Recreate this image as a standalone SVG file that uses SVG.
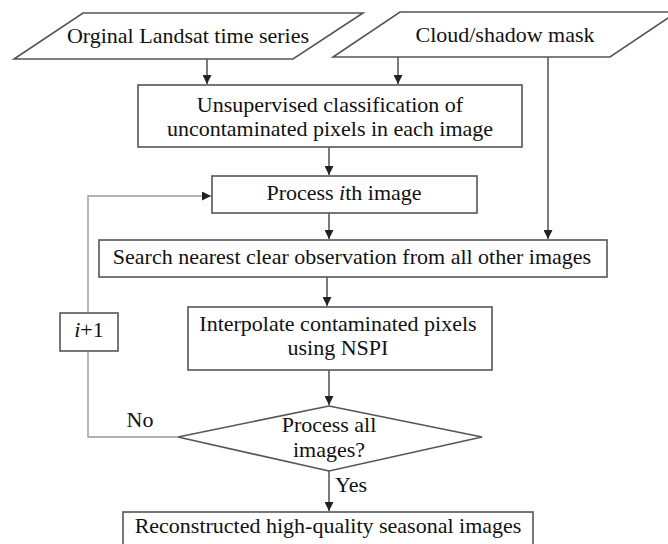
<svg xmlns="http://www.w3.org/2000/svg" width="668" height="544" viewBox="0 0 668 544">
<style>
.s{fill:#fff;stroke:#555;stroke-width:1.6}
.t{font-family:"Liberation Serif",serif;font-size:22px;fill:#111;text-anchor:middle}
.c{fill:none;stroke:#444;stroke-width:1.4}
.f{fill:none;stroke:#999;stroke-width:1.4}
</style>
<defs>
<marker id="a" viewBox="0 0 10 10" refX="10" refY="5" markerWidth="9" markerHeight="9" markerUnits="userSpaceOnUse" orient="auto">
<path d="M0,0 L10,5 L0,10 z" fill="#222"/>
</marker>
</defs>
<rect width="668" height="544" fill="#fff"/>
<g id="connectors">
<path class="c" d="M207,59 V84" marker-end="url(#a)"/>
<path class="c" d="M398,57 V84" marker-end="url(#a)"/>
<path class="c" d="M548,57 V239" marker-end="url(#a)"/>
<path class="c" d="M329,147 V175" marker-end="url(#a)"/>
<path class="c" d="M329,213 V239" marker-end="url(#a)"/>
<path class="c" d="M327,277 V306" marker-end="url(#a)"/>
<path class="c" d="M329,370 V405" marker-end="url(#a)"/>
<path class="c" d="M329,471 V511" marker-end="url(#a)"/>
<path class="f" d="M178,437 H88 V196 H211" marker-end="url(#a)"/>
</g>
<g id="input1">
<polygon class="s" points="83,13 363,13 293,59 14,59"/>
<text class="t" x="188" y="43">Orginal Landsat time series</text>
</g>
<g id="input2">
<polygon class="s" points="400,12 677,12 610,57 333,57"/>
<text class="t" x="505" y="42">Cloud/shadow mask</text>
</g>
<g id="classify">
<rect class="s" x="138" y="85" width="384" height="62"/>
<text class="t" x="330" y="112">Unsupervised classification of</text>
<text class="t" x="330" y="136">uncontaminated pixels in each image</text>
</g>
<g id="process">
<rect class="s" x="212" y="176" width="265" height="37"/>
<text class="t" x="344" y="200">Process <tspan font-style="italic">i</tspan>th image</text>
</g>
<g id="search">
<rect class="s" x="99" y="240" width="508" height="37"/>
<text class="t" x="352" y="264">Search nearest clear observation from all other images</text>
</g>
<g id="interpolate">
<rect class="s" x="188" y="307" width="304" height="63"/>
<text class="t" x="338" y="331">Interpolate contaminated pixels</text>
<text class="t" x="338" y="355">using NSPI</text>
</g>
<g id="decision">
<polygon class="s" points="329,406 482,437 329,471 178,437"/>
<text class="t" x="329" y="432">Process all</text>
<text class="t" x="329" y="457">images?</text>
</g>
<g id="increment">
<rect class="s" x="60" y="313" width="58" height="38"/>
<text class="t" x="89" y="337"><tspan font-style="italic">i</tspan>+1</text>
</g>
<g id="output">
<rect class="s" x="123" y="512" width="410" height="40"/>
<text class="t" x="328" y="533">Reconstructed high-quality seasonal images</text>
</g>
<g id="labels">
<text class="t" x="140" y="427">No</text>
<text class="t" x="351" y="492">Yes</text>
</g>
</svg>
